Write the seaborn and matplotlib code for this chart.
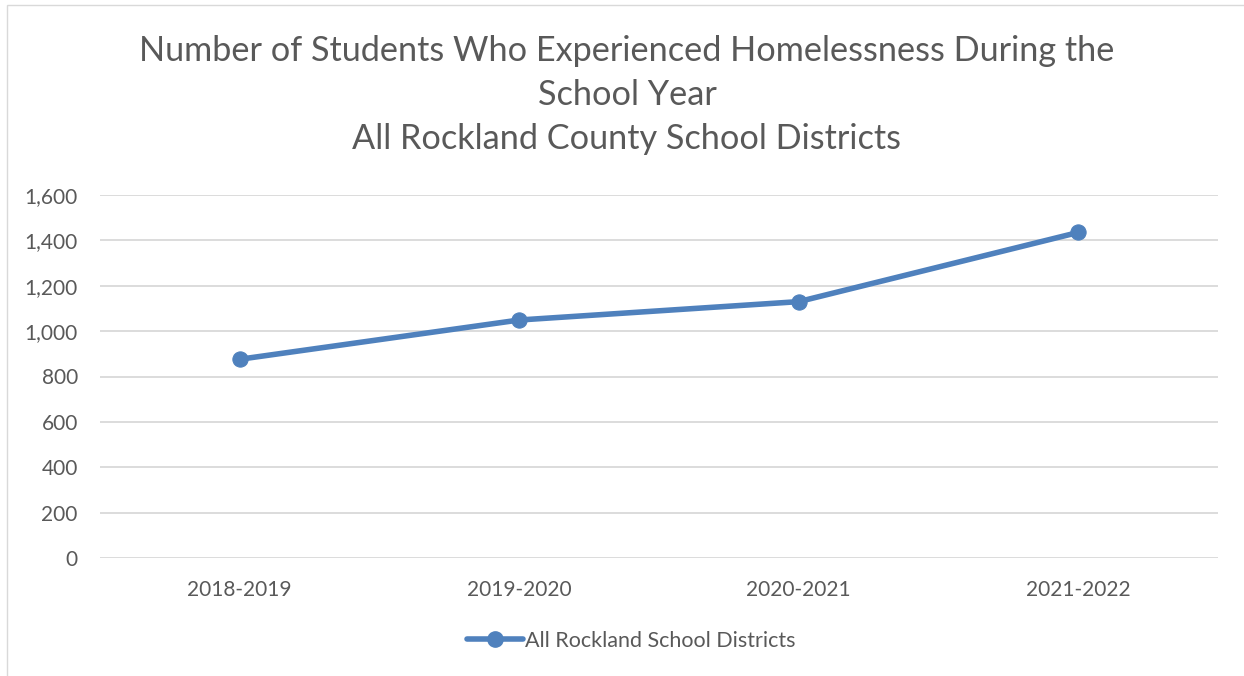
import matplotlib
matplotlib.use("Agg")
import matplotlib.pyplot as plt
import seaborn as sns
import pandas as pd
from matplotlib.patches import Rectangle

school_years = ["2018-2019", "2019-2020", "2020-2021", "2021-2022"]
students = [876, 1049, 1130, 1435]
series_name = "All Rockland School Districts"
y_ticks = [0, 200, 400, 600, 800, 1000, 1200, 1400, 1600]

sns.set_theme(style="white")
plt.rcParams["font.family"] = ["Lato", "DejaVu Sans"]

TEXT = "#595959"
LINE = "#4F81BD"
GRID = "#D9D9D9"

df = pd.DataFrame({"year": school_years, "students": students, "series": series_name})
df["pos"] = range(len(df))

fig = plt.figure(figsize=(12.44, 6.76), dpi=100)
fig.patch.set_facecolor("white")
# chart frame
fig.add_artist(Rectangle((7 / 1244, -0.01), 1.2, (676 - 5) / 676 + 0.01,
                         transform=fig.transFigure, fill=False,
                         edgecolor="#D9D9D9", linewidth=1.0))

ax = fig.add_axes([100 / 1244, (676 - 558) / 676, (1218 - 100) / 1244, (558 - 195) / 676])
sns.lineplot(data=df, x="pos", y="students", hue="series", palette=[LINE],
             marker="o", markersize=11, markeredgecolor=LINE, linewidth=4,
             ax=ax, legend=False)

ax.set_xlim(-0.5, len(school_years) - 0.5)
ax.set_ylim(0, 1600)
ax.set_xticks(range(len(school_years)))
ax.set_xticklabels(school_years)
ax.set_yticks(y_ticks)
ax.set_yticklabels([f"{v:,}" for v in y_ticks])
ax.tick_params(axis="both", length=0, labelsize=15, colors=TEXT)
ax.tick_params(axis="x", pad=16)
ax.tick_params(axis="y", pad=16)
for lab in ax.get_xticklabels() + ax.get_yticklabels():
    lab.set_color(TEXT)
ax.set_xlabel("")
ax.set_ylabel("")
ax.grid(axis="y", color=GRID, linewidth=1.3)
ax.set_axisbelow(True)
for s in ax.spines.values():
    s.set_visible(False)

fig.text(627 / 1244, 1 - 95 / 676,
         "Number of Students Who Experienced Homelessness During the\nSchool Year\nAll Rockland County School Districts",
         ha="center", va="center", fontsize=24.7, color=TEXT, linespacing=1.45)

handle = plt.Line2D([], [], color=LINE, linewidth=4, marker="o", markersize=11)
fig.legend([handle], [series_name], loc="center", bbox_to_anchor=(631 / 1244, 1 - 641 / 676),
           frameon=False, fontsize=15.5, labelcolor=TEXT, handlelength=2.6, handletextpad=0.1)

fig.savefig("out.png", dpi=100, facecolor="white")
